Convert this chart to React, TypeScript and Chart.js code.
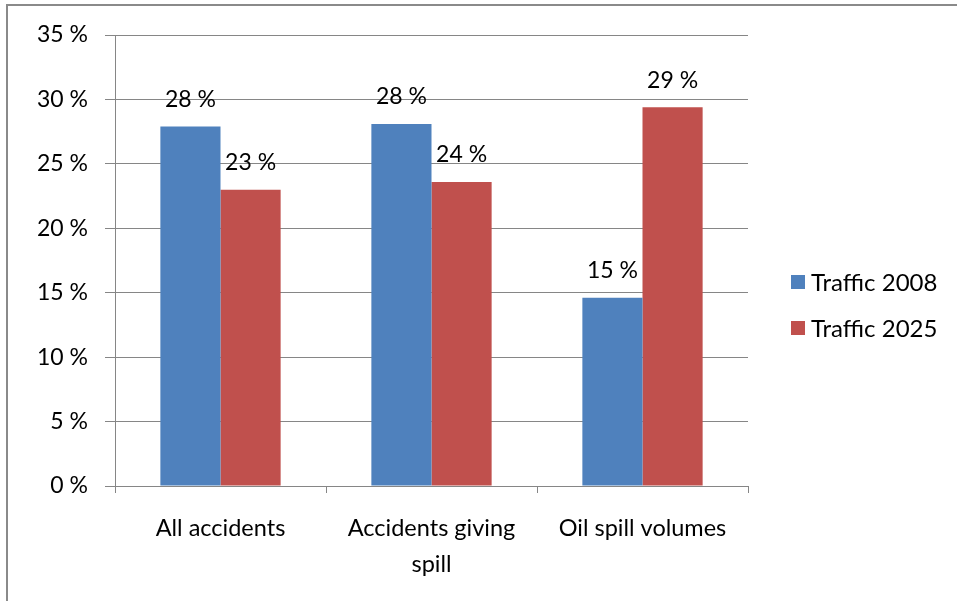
import React, { useEffect, useRef } from "react";
import { Chart, registerables } from "chart.js";

Chart.register(...registerables);

const categories: (string | string[])[] = ["All accidents", ["Accidents giving", "spill"], "Oil spill volumes"];
const seriesNames = ["Traffic 2008", "Traffic 2025"];
const traffic2008 = [27.9, 28.1, 14.6];
const traffic2025 = [23.0, 23.6, 29.4];
const seriesColors = ["#4F81BD", "#C0504D"];

const FONT = "Lato, 'Open Sans', sans-serif";

const labelPlugin = {
  id: "valueLabels",
  afterDatasetsDraw(chart: any) {
    const ctx = chart.ctx;
    ctx.save();
    ctx.font = `23px ${FONT}`;
    ctx.fillStyle = "#000";
    ctx.textAlign = "center";
    ctx.textBaseline = "middle";
    chart.data.datasets.forEach((ds: any, i: number) => {
      const meta = chart.getDatasetMeta(i);
      meta.data.forEach((el: any, j: number) => {
        const v = ds.data[j];
        ctx.fillText(`${Math.round(v)} %`, el.x, el.y - 27);
      });
    });
    ctx.restore();
  },
};

const legendPlugin = {
  id: "customLegend",
  afterDraw(chart: any) {
    const ctx = chart.ctx;
    ctx.save();
    ctx.font = `24px ${FONT}`;
    ctx.textAlign = "left";
    ctx.textBaseline = "middle";
    const x = chart.chartArea.right + 43;
    const y0 = 282;
    chart.data.datasets.forEach((ds: any, i: number) => {
      const y = y0 + i * 46;
      ctx.fillStyle = ds.backgroundColor;
      ctx.fillRect(x, y - 7, 14, 14);
      ctx.fillStyle = "#000";
      ctx.fillText(ds.label, x + 20, y + 1);
    });
    ctx.restore();
  },
};

export default function App() {
  const ref = useRef<HTMLCanvasElement | null>(null);
  useEffect(() => {
    if (!ref.current) return;
    const chart = new Chart(ref.current, {
      type: "bar",
      data: {
        labels: categories as any,
        datasets: [
          {
            label: seriesNames[0],
            data: traffic2008,
            backgroundColor: seriesColors[0],
            categoryPercentage: 0.57,
            barPercentage: 1,
          },
          {
            label: seriesNames[1],
            data: traffic2025,
            backgroundColor: seriesColors[1],
            categoryPercentage: 0.57,
            barPercentage: 1,
          },
        ],
      },
      options: {
        animation: false,
        responsive: false,
        layout: { padding: { top: 35, right: 209, left: 0, bottom: 0 } },
        plugins: { legend: { display: false }, tooltip: { enabled: false } },
        scales: {
          x: {
            grid: { drawOnChartArea: false, drawTicks: true, tickLength: 7, color: "#868686", offset: true },
            border: { color: "#868686", width: 1 },
            ticks: { color: "#000", font: { family: FONT, size: 23.5, lineHeight: 1.55 }, padding: 17, maxRotation: 0, autoSkip: false },
            afterFit(scale: any) {
              scale.height = 115;
            },
          },
          y: {
            min: 0,
            max: 35,
            grid: { color: "#868686", tickLength: 10 },
            border: { color: "#868686", width: 1 },
            ticks: {
              stepSize: 5,
              color: "#000",
              font: { family: FONT, size: 23 },
              padding: 17,
              callback: (v: any) => `${v} %`,
            },
            afterFit(scale: any) {
              scale.width = 115;
            },
          },
        },
      },
      plugins: [labelPlugin, legendPlugin],
    });
    return () => chart.destroy();
  }, []);

  return (
    <div style={{ position: "absolute", left: 0, top: 0, width: 957, height: 601, overflow: "hidden", background: "#fff" }}>
      <div
        style={{
          position: "absolute",
          left: 6,
          top: 4,
          width: 1100,
          height: 800,
          border: "2px solid #8a8a8a",
        }}
      />
      <canvas ref={ref} width={957} height={601} style={{ position: "absolute", left: 0, top: 0 }} />
    </div>
  );
}
